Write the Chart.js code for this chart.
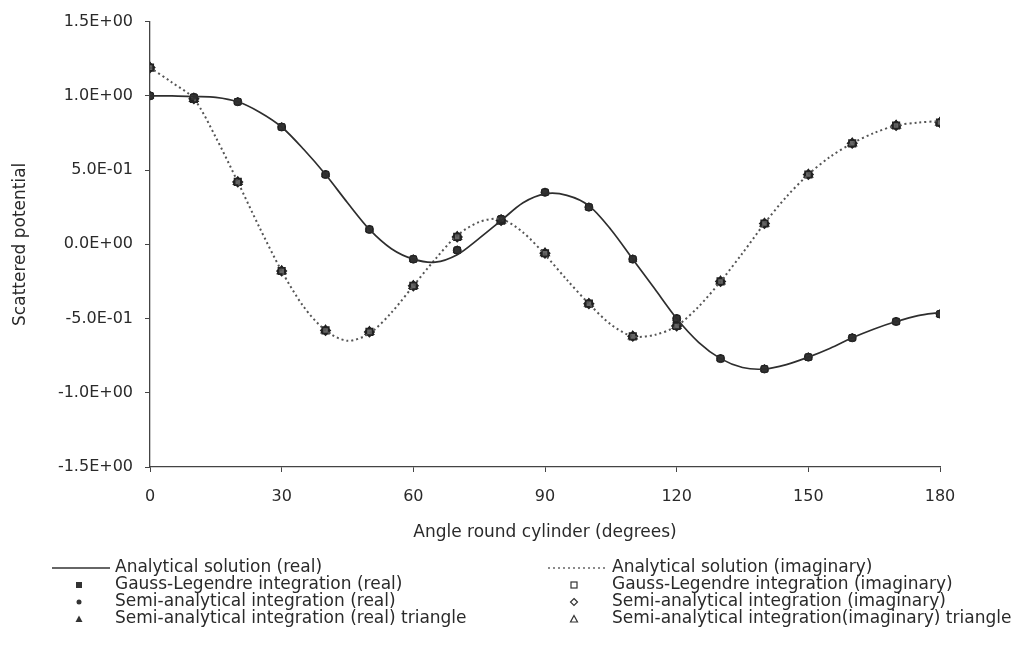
<!DOCTYPE html>
<html>
<head>
<meta charset="utf-8">
<script src="https://cdn.jsdelivr.net/npm/chart.js@4.4.1/dist/chart.umd.min.js"></script>
<style>
  html, body { margin: 0; padding: 0; background: #fff; }
  #wrap { width: 1022px; height: 653px; }
</style>
</head>
<body>
<div id="wrap"><canvas id="chart" width="1022" height="653"></canvas></div>
<script>
// Angles for the analytical curves (5 degree steps) and the numerical points (10 degree steps)
const curveAngles = [0, 5, 10, 15, 20, 25, 30, 35, 40, 45, 50, 55, 60, 65, 70, 75, 80, 85, 90,
  95, 100, 105, 110, 115, 120, 125, 130, 135, 140, 145, 150, 155, 160, 165, 170, 175, 180];
const pointAngles = [0, 10, 20, 30, 40, 50, 60, 70, 80, 90, 100, 110, 120, 130, 140, 150, 160, 170, 180];

// Analytical solution
const analyticalReal = [1.0, 1.0, 0.995, 0.99, 0.96, 0.89, 0.79, 0.64, 0.47, 0.28, 0.10, -0.03, -0.10,
  -0.12, -0.07, 0.04, 0.16, 0.28, 0.34, 0.33, 0.26, 0.10, -0.10, -0.30, -0.50, -0.66, -0.77, -0.83,
  -0.84, -0.81, -0.76, -0.70, -0.63, -0.57, -0.52, -0.48, -0.46];
const analyticalImag = [1.19, 1.09, 0.98, 0.72, 0.42, 0.11, -0.18, -0.42, -0.58, -0.65, -0.60, -0.46,
  -0.28, -0.10, 0.06, 0.15, 0.17, 0.08, -0.07, -0.24, -0.40, -0.54, -0.62, -0.61, -0.55, -0.42, -0.25,
  -0.06, 0.14, 0.32, 0.47, 0.59, 0.68, 0.75, 0.80, 0.82, 0.83];

// Numerical results (markers)
const gaussReal = [1.00, 0.99, 0.96, 0.79, 0.47, 0.10, -0.10, -0.04, 0.17, 0.35, 0.25, -0.10, -0.50,
  -0.77, -0.84, -0.76, -0.63, -0.52, -0.47];
const semiReal = [1.00, 0.99, 0.96, 0.79, 0.47, 0.10, -0.10, -0.04, 0.17, 0.35, 0.25, -0.10, -0.50,
  -0.77, -0.84, -0.76, -0.63, -0.52, -0.47];
const triReal = [1.00, 0.99, 0.96, 0.79, 0.47, 0.10, -0.10, -0.04, 0.17, 0.35, 0.25, -0.10, -0.50,
  -0.77, -0.84, -0.76, -0.63, -0.52, -0.47];
const gaussImag = [1.19, 0.98, 0.42, -0.18, -0.58, -0.59, -0.28, 0.05, 0.16, -0.06, -0.40, -0.62,
  -0.55, -0.25, 0.14, 0.47, 0.68, 0.80, 0.82];
const semiImag = [1.19, 0.98, 0.42, -0.18, -0.58, -0.59, -0.28, 0.05, 0.16, -0.06, -0.40, -0.62,
  -0.55, -0.25, 0.14, 0.47, 0.68, 0.80, 0.82];
const triImag = [1.19, 0.98, 0.42, -0.18, -0.58, -0.59, -0.28, 0.05, 0.16, -0.06, -0.40, -0.62,
  -0.55, -0.25, 0.14, 0.47, 0.68, 0.80, 0.82];

const xTicks = [0, 30, 60, 90, 120, 150, 180];
const yTicks = [-1.5, -1.0, -0.5, 0, 0.5, 1.0, 1.5];

const legendLeft = [
  'Analytical solution (real)',
  'Gauss-Legendre integration (real)',
  'Semi-analytical integration (real)',
  'Semi-analytical integration (real) triangle'
];
const legendRight = [
  'Analytical solution (imaginary)',
  'Gauss-Legendre integration (imaginary)',
  'Semi-analytical integration (imaginary)',
  'Semi-analytical integration(imaginary) triangle'
];

const FONT = '"DejaVu Sans", "Liberation Sans", Arial, sans-serif';
const INK = '#2a2a2a';

function toXY(xs, ys) {
  return xs.map((x, i) => ({ x: x, y: ys[i] }));
}

// 1.5 -> "1.5E+00", -0.5 -> "-5.0E-01"
function sci(v) {
  const parts = Number(v).toExponential(1).split('e');
  const exp = parseInt(parts[1], 10);
  const sign = exp < 0 ? '-' : '+';
  const digits = String(Math.abs(exp)).padStart(2, '0');
  return parts[0] + 'E' + sign + digits;
}

function markerSet(label, values, style, filled) {
  return {
    label: label,
    data: toXY(pointAngles, values),
    showLine: false,
    pointStyle: style,
    pointRadius: style === 'circle' ? 4 : 4.5,
    pointBorderWidth: filled ? 1 : 1.8,
    pointBorderColor: '#222',
    pointBackgroundColor: filled ? '#333' : '#666',
  };
}

// Draws the two-column legend under the x-axis title
const legendPlugin = {
  id: 'bottomLegend',
  afterDraw(chart) {
    const ctx = chart.ctx;
    const rows = [568, 585, 602, 619];
    ctx.save();
    ctx.font = '17px ' + FONT;
    ctx.fillStyle = INK;
    ctx.textBaseline = 'middle';
    ctx.textAlign = 'left';
    legendLeft.forEach((t, i) => ctx.fillText(t, 115, rows[i]));
    legendRight.forEach((t, i) => ctx.fillText(t, 612, rows[i]));

    // line samples
    ctx.strokeStyle = '#333';
    ctx.lineWidth = 1.5;
    ctx.beginPath();
    ctx.moveTo(52, rows[0]);
    ctx.lineTo(110, rows[0]);
    ctx.stroke();
    ctx.strokeStyle = '#666';
    ctx.setLineDash([2, 3]);
    ctx.beginPath();
    ctx.moveTo(548, rows[0]);
    ctx.lineTo(608, rows[0]);
    ctx.stroke();
    ctx.setLineDash([]);

    // markers
    ctx.fillStyle = '#333';
    ctx.strokeStyle = '#333';
    ctx.lineWidth = 1;
    ctx.fillRect(76, rows[1] - 3, 6, 6);
    ctx.beginPath(); ctx.arc(79, rows[2], 2.5, 0, Math.PI * 2); ctx.fill();
    ctx.beginPath();
    ctx.moveTo(79, rows[3] - 3.5); ctx.lineTo(82.5, rows[3] + 3); ctx.lineTo(75.5, rows[3] + 3);
    ctx.closePath(); ctx.fill();

    ctx.lineWidth = 1.2;
    ctx.strokeRect(571, rows[1] - 3, 6, 6);
    ctx.beginPath();
    ctx.moveTo(574, rows[2] - 3.5); ctx.lineTo(577.5, rows[2]); ctx.lineTo(574, rows[2] + 3.5);
    ctx.lineTo(570.5, rows[2]); ctx.closePath(); ctx.stroke();
    ctx.beginPath();
    ctx.moveTo(574, rows[3] - 3.5); ctx.lineTo(577.5, rows[3] + 3); ctx.lineTo(570.5, rows[3] + 3);
    ctx.closePath(); ctx.stroke();
    ctx.restore();
  }
};

new Chart(document.getElementById('chart'), {
  type: 'scatter',
  data: {
    datasets: [
      {
        label: legendLeft[0],
        data: toXY(curveAngles, analyticalReal),
        showLine: true,
        borderColor: '#2e2e2e',
        borderWidth: 1.7,
        pointRadius: 0,
        tension: 0.3,
      },
      {
        label: legendRight[0],
        data: toXY(curveAngles, analyticalImag),
        showLine: true,
        borderColor: '#555',
        borderWidth: 2,
        borderDash: [2, 3],
        pointRadius: 0,
        tension: 0.3,
      },
      markerSet(legendLeft[1], gaussReal, 'rect', true),
      markerSet(legendLeft[2], semiReal, 'circle', true),
      markerSet(legendLeft[3], triReal, 'triangle', true),
      markerSet(legendRight[1], gaussImag, 'rect', false),
      markerSet(legendRight[2], semiImag, 'rectRot', false),
      markerSet(legendRight[3], triImag, 'triangle', false),
    ],
  },
  options: {
    responsive: false,
    animation: false,
    layout: {
      padding: { left: 0, right: 82, top: 20, bottom: 106 },
    },
    plugins: {
      legend: { display: false },
      tooltip: { enabled: false },
    },
    scales: {
      x: {
        type: 'linear',
        min: 0,
        max: 180,
        afterBuildTicks: (scale) => { scale.ticks = xTicks.map((v) => ({ value: v })); },
        afterFit: (scale) => { scale.height = 80; },
        grid: { display: true, drawOnChartArea: false, drawTicks: true, tickLength: 5, color: '#444' },
        border: { display: true, color: '#444', width: 1.3 },
        ticks: { color: INK, padding: 15, font: { family: FONT, size: 16 } },
        title: {
          display: true,
          text: 'Angle round cylinder (degrees)',
          color: INK,
          font: { family: FONT, size: 17 },
          padding: { top: 0, bottom: 4 },
        },
      },
      y: {
        type: 'linear',
        min: -1.5,
        max: 1.5,
        afterBuildTicks: (scale) => { scale.ticks = yTicks.map((v) => ({ value: v })); },
        afterFit: (scale) => { scale.width = 150; },
        grid: { display: true, drawOnChartArea: false, drawTicks: true, tickLength: 5, color: '#444' },
        border: { display: true, color: '#444', width: 1.3 },
        ticks: {
          color: INK,
          padding: 12,
          font: { family: FONT, size: 16 },
          callback: (v) => sci(v),
        },
        title: {
          display: true,
          text: 'Scattered potential',
          color: INK,
          font: { family: FONT, size: 17 },
          padding: { top: 10, bottom: 0 },
        },
      },
    },
  },
  plugins: [legendPlugin],
});
</script>
</body>
</html>
